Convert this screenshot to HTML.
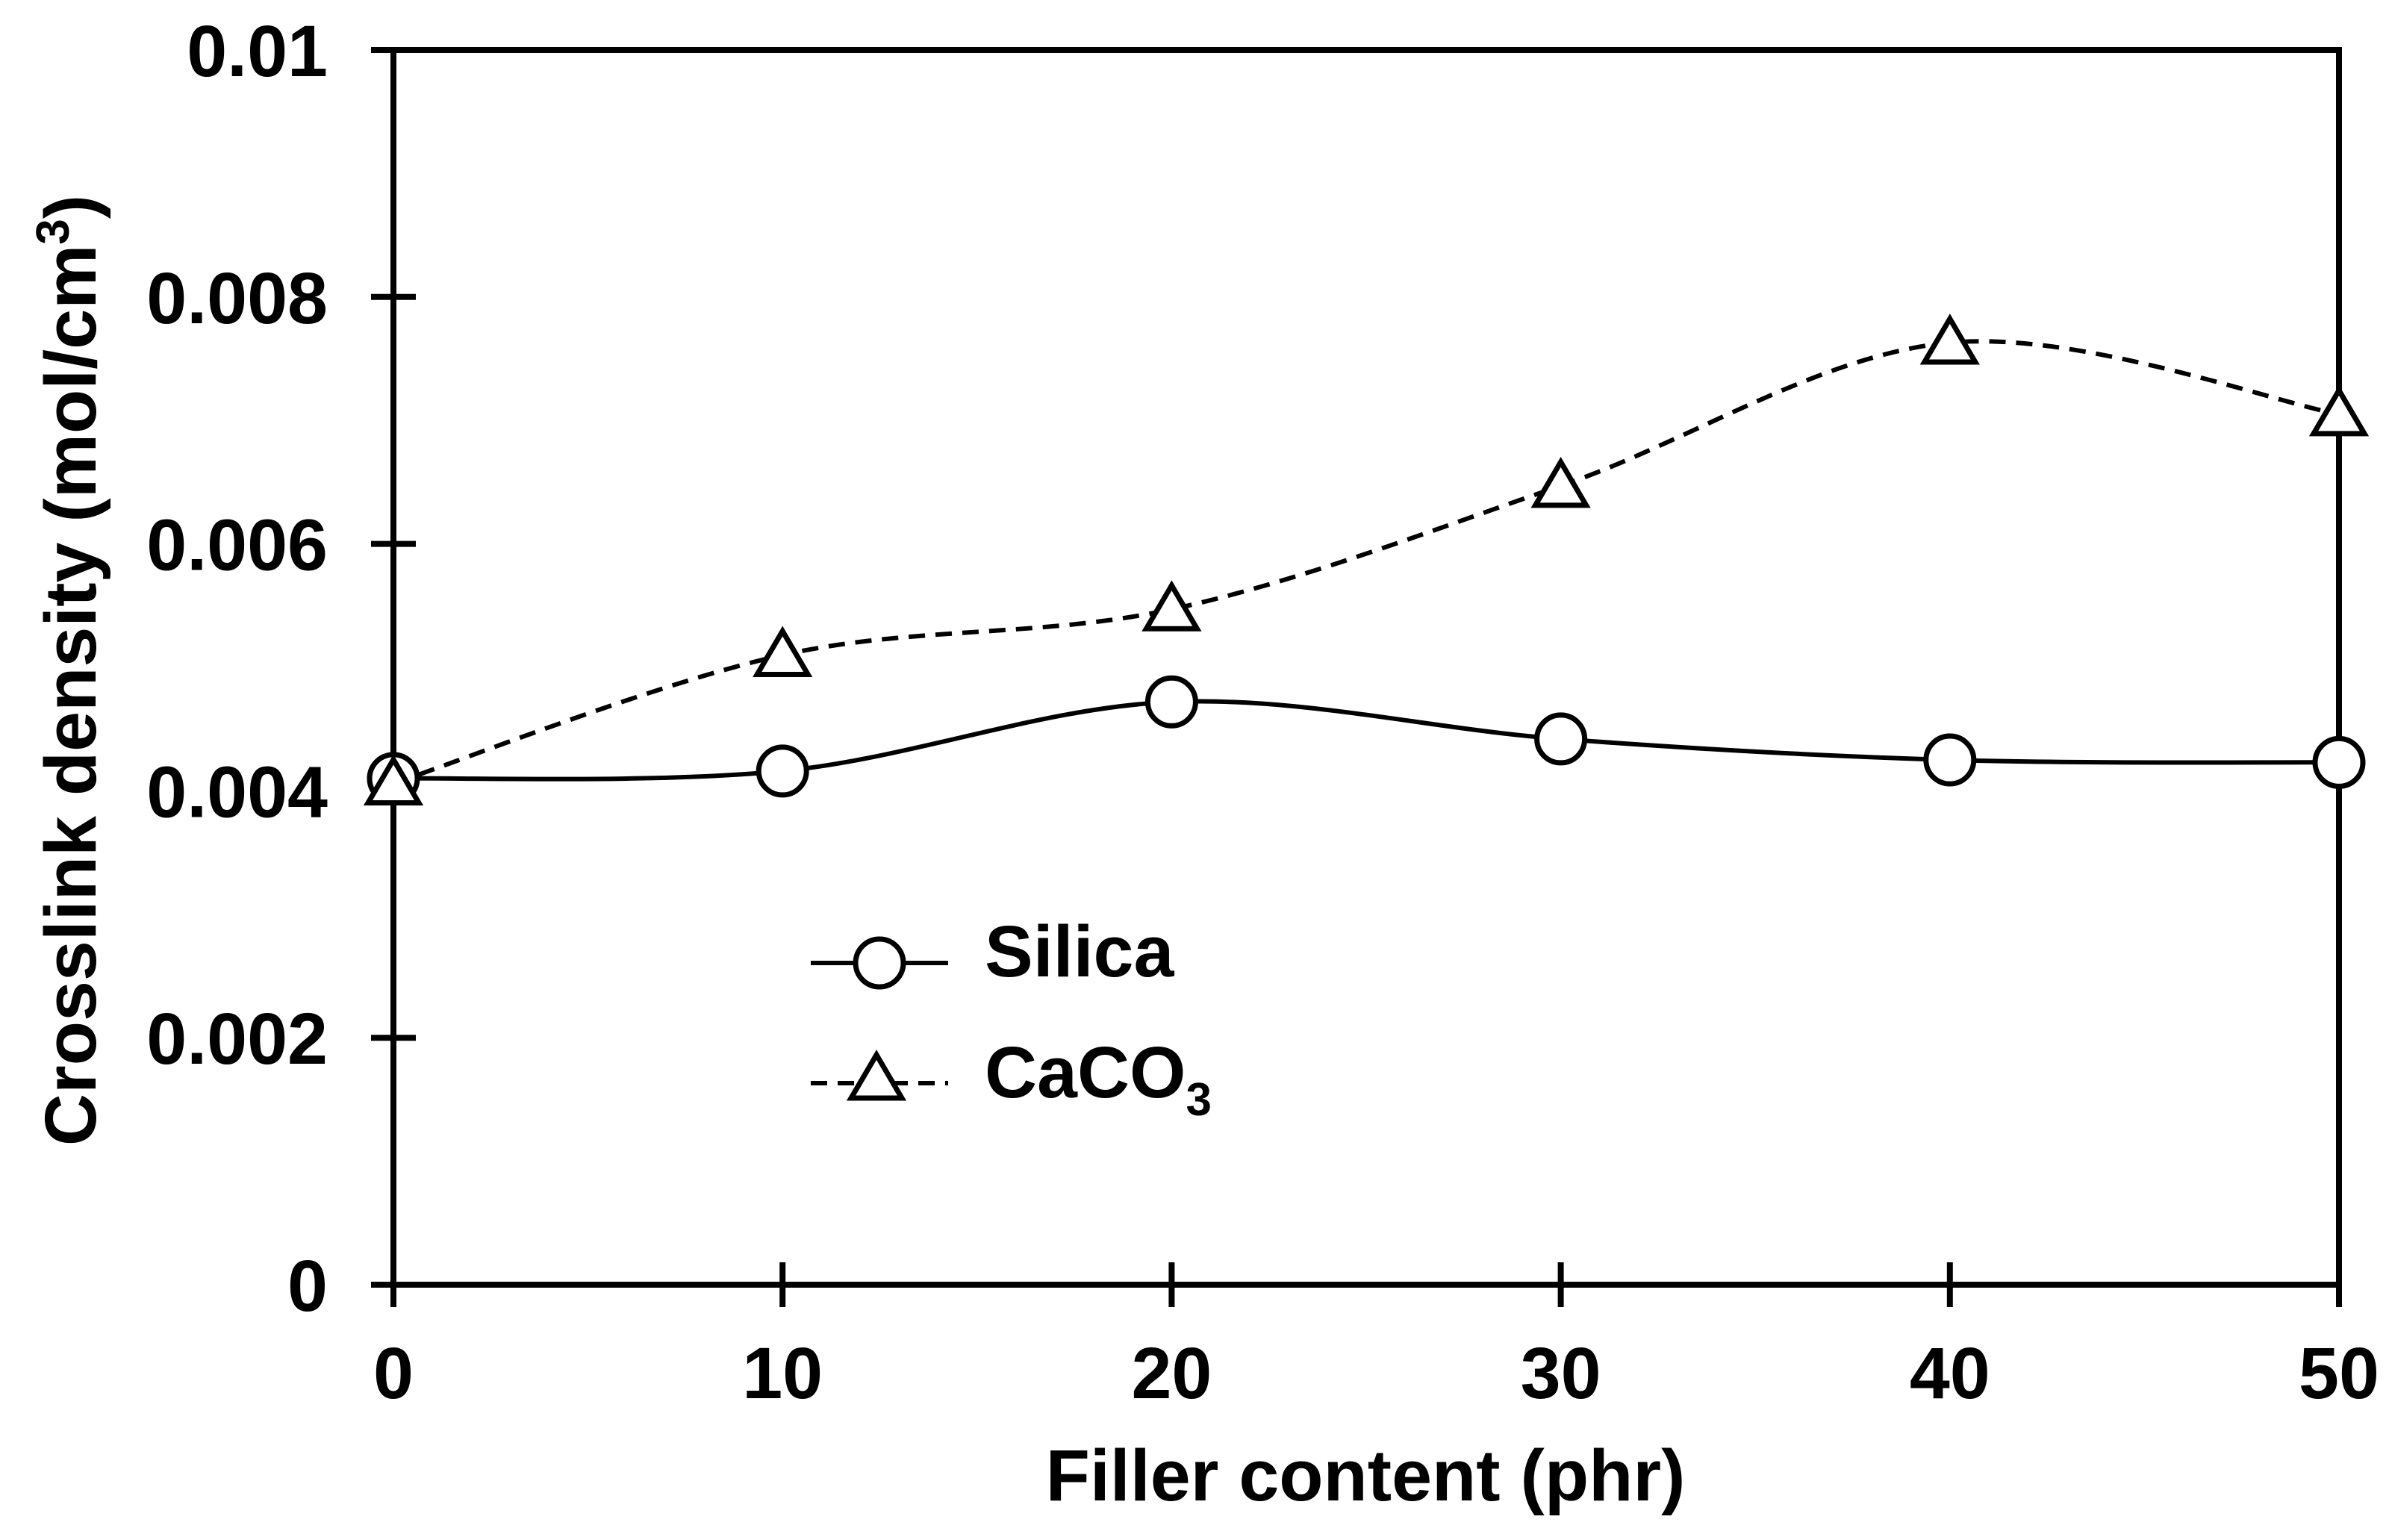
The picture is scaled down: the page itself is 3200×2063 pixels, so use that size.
<!DOCTYPE html>
<html><head><meta charset="utf-8">
<style>
html,body{margin:0;padding:0;background:#fff;}
svg{display:block;}
text{font-family:"Liberation Sans",Arial,sans-serif;font-weight:bold;fill:#000;}
</style></head>
<body>
<svg id="chart" width="3200" height="2063" viewBox="0 0 3200 2063" xmlns="http://www.w3.org/2000/svg">
<rect width="3200" height="2063" fill="#fff"/>
<g id="axes"></g>
<g id="series"></g>
<g id="legend"></g>
</svg>
<script>
const categories = [0, 10, 20, 30, 40, 50];
const silicaValues = [0.0041, 0.00416, 0.00472, 0.00442, 0.00425, 0.00423];
const caco3Values = [0.00406, 0.0051, 0.00547, 0.00647, 0.00763, 0.00705];
const xTicks = [0, 10, 20, 30, 40, 50];
const yTicks = [0, 0.002, 0.004, 0.006, 0.008, 0.01];
const yTickLabels = ["0", "0.002", "0.004", "0.006", "0.008", "0.01"];

const X0 = 527, X1 = 3133, Y0 = 1721, Y1 = 67;
const FS = 97;
function xs(v){ return X0 + (v - 0) / 50 * (X1 - X0); }
function ys(v){ return Y0 - (v - 0) / 0.01 * (Y0 - Y1); }
const NS = "http://www.w3.org/2000/svg";
function mk(tag, attrs, parent){
  const e = document.createElementNS(NS, tag);
  for (const k in attrs) e.setAttribute(k, attrs[k]);
  parent.appendChild(e);
  return e;
}
const axes = document.getElementById('axes');
const series = document.getElementById('series');
const legend = document.getElementById('legend');

let fr = mk('rect', {x:X0, y:Y1, width:X1-X0, height:Y0-Y1, fill:'none', stroke:'#000', 'stroke-width':8}, axes);



yTicks.forEach((t, i) => {
  const y = ys(t);
  const l = mk('line', {x1:X0-30, x2:X0+30, y1:y, y2:y, stroke:'#000', 'stroke-width':8}, axes);
  
  
  const tx = mk('text', {x:439, y:y+35, 'font-size':FS, 'text-anchor':'end'}, axes);
  tx.textContent = yTickLabels[i];
  
  
});
xTicks.forEach(t => {
  const x = xs(t);
  const l = mk('line', {x1:x, x2:x, y1:Y0-30, y2:Y0+30, stroke:'#000', 'stroke-width':8}, axes);
  
  
  const tx = mk('text', {x:x, y:1873, 'font-size':FS, 'text-anchor':'middle'}, axes);
  tx.textContent = String(t);
  
  
});
const xt = mk('text', {x:1829, y:2010, 'font-size':FS, 'text-anchor':'middle'}, axes);
xt.textContent = 'Filler content (phr)';


const yt = mk('text', {x:0, y:0, 'font-size':FS, 'text-anchor':'middle', transform:'translate(128,898) rotate(-90)'}, axes);
yt.innerHTML = 'Crosslink density (mol/cm<tspan dy="-36" font-size="62">3</tspan><tspan dy="36">)</tspan>';



function smoothPath(vals){
  const p = categories.map((c, i) => [xs(c), ys(vals[i])]);
  let d = 'M' + p[0][0] + ',' + p[0][1];
  for (let i = 0; i < p.length - 1; i++){
    const p0 = p[i-1] || p[i], p1 = p[i], p2 = p[i+1], p3 = p[i+2] || p[i+1];
    const c1 = [p1[0] + (p2[0]-p0[0])/6, p1[1] + (p2[1]-p0[1])/6];
    const c2 = [p2[0] - (p3[0]-p1[0])/6, p2[1] - (p3[1]-p1[1])/6];
    d += ' C' + c1.join(',') + ' ' + c2.join(',') + ' ' + p2.join(',');
  }
  return d;
}
function circle(parent, x, y){
  return mk('circle', {cx:x, cy:y, r:32, fill:'#fff', stroke:'#000', 'stroke-width':7}, parent);
}
function tri(parent, x, y){
  return mk('path', {d:`M${x},${y-32} L${x+34},${y+26} L${x-34},${y+26} Z`, fill:'#fff', stroke:'#000', 'stroke-width':7}, parent);
}

const sl = mk('path', {d:smoothPath(silicaValues), fill:'none', stroke:'#000', 'stroke-width':6}, series);


const cl = mk('path', {d:smoothPath(caco3Values), fill:'none', stroke:'#000', 'stroke-width':6, 'stroke-dasharray':'22,14'}, series);


categories.forEach((c, i) => {
  const m1 = circle(series, xs(c), ys(silicaValues[i]));
  
  
  const m2 = tri(series, xs(c), ys(caco3Values[i]));
  
  
});

const l1 = mk('line', {x1:1086, x2:1270, y1:1290, y2:1290, stroke:'#000', 'stroke-width':6}, legend);


const lc = circle(legend, 1178, 1290);


const t1 = mk('text', {x:1319, y:1308, 'font-size':FS}, legend);
t1.textContent = 'Silica';


const l2 = mk('line', {x1:1086, x2:1270, y1:1451, y2:1451, stroke:'#000', 'stroke-width':6, 'stroke-dasharray':'22,14'}, legend);


const lt = tri(legend, 1174, 1445);


const t2 = mk('text', {x:1319, y:1470, 'font-size':FS}, legend);
t2.innerHTML = 'CaCO<tspan dy="24" font-size="62">3</tspan>';


</script>
</body></html>
